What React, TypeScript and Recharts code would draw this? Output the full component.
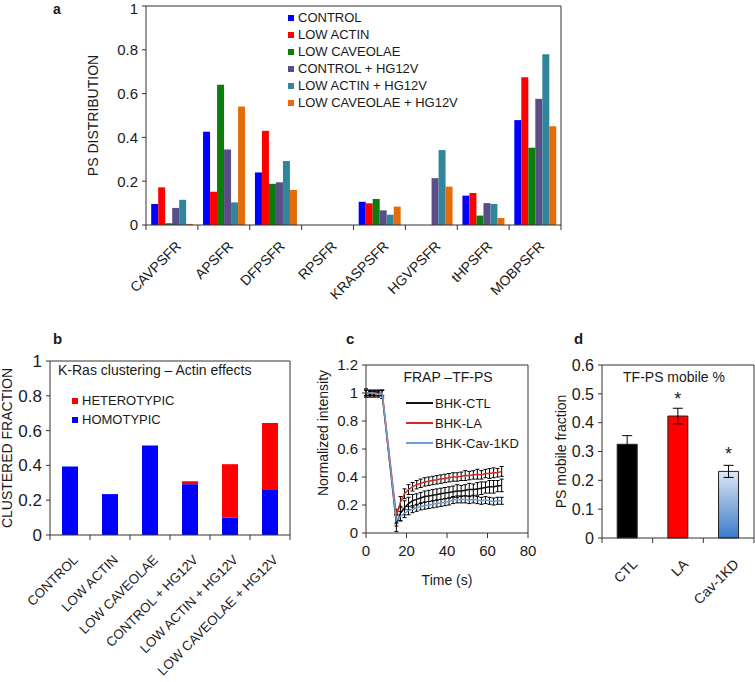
import React from 'react';
import {
  BarChart,
  Bar,
  LineChart,
  Line,
  XAxis,
  YAxis,
  Legend,
  ErrorBar,
  Cell,
  LabelList,
  Label,
  CartesianGrid,
} from 'recharts';

const FONT = '"Liberation Sans", Arial, sans-serif';
const AXIS = '#333';
const TEXT = '#1a1a1a';

// --- panel a: PS distribution ---
const psCategories = ['CAVPSFR', 'APSFR', 'DFPSFR', 'RPSFR', 'KRASPSFR', 'HGVPSFR', 'tHPSFR', 'MOBPSFR'];
const psControl = [0.096, 0.426, 0.24, 0, 0.106, 0, 0.134, 0.479];
const psLowActin = [0.172, 0.152, 0.43, 0, 0.099, 0, 0.146, 0.675];
const psLowCaveolae = [0.008, 0.64, 0.188, 0, 0.119, 0, 0.043, 0.353];
const psControlHg = [0.078, 0.345, 0.195, 0, 0.067, 0.214, 0.1, 0.576];
const psLowActinHg = [0.115, 0.103, 0.292, 0, 0.047, 0.342, 0.096, 0.78];
const psLowCaveolaeHg = [0.005, 0.541, 0.16, 0, 0.084, 0.175, 0.032, 0.451];
const psTicks = [0, 0.2, 0.4, 0.6, 0.8, 1];

// --- panel b: K-Ras clustering ---
const clusterGroups = ['CONTROL', 'LOW ACTIN', 'LOW CAVEOLAE', 'CONTROL + HG12V', 'LOW ACTIN + HG12V', 'LOW CAVEOLAE + HG12V'];
const homotypic = [0.393, 0.235, 0.515, 0.292, 0.099, 0.263];
const heterotypic = [0, 0, 0, 0.017, 0.308, 0.381];
const clusterTicks = [0, 0.2, 0.4, 0.6, 0.8, 1];

// --- panel c: FRAP ---
const frapTime = [0, 2, 4, 6, 8, 15, 17, 19, 21, 23, 25, 27, 29, 31, 33, 35, 37, 39, 41, 43, 45, 47, 49, 51, 53, 55, 57, 59, 61, 63, 65, 67];
const frapCtl = [1.0, 0.99, 1.0, 1.0, 0.99, 0.07, 0.14, 0.18, 0.21, 0.23, 0.24, 0.25, 0.26, 0.265, 0.27, 0.275, 0.28, 0.285, 0.29, 0.295, 0.3, 0.3, 0.305, 0.31, 0.31, 0.315, 0.32, 0.325, 0.33, 0.33, 0.335, 0.34];
const frapLa = [1.0, 1.0, 0.99, 1.0, 1.0, 0.12, 0.22, 0.28, 0.31, 0.33, 0.345, 0.355, 0.365, 0.37, 0.375, 0.38, 0.385, 0.39, 0.395, 0.4, 0.4, 0.405, 0.41, 0.41, 0.415, 0.42, 0.415, 0.425, 0.425, 0.43, 0.43, 0.44];
const frapCav = [1.0, 1.0, 1.0, 0.99, 1.0, 0.09, 0.12, 0.14, 0.16, 0.17, 0.18, 0.19, 0.195, 0.2, 0.205, 0.21, 0.215, 0.22, 0.225, 0.235, 0.24, 0.24, 0.24, 0.235, 0.24, 0.235, 0.23, 0.235, 0.23, 0.225, 0.23, 0.23];
const frapCtlErr = [0.03, 0.02, 0.02, 0.02, 0.03, 0.06, 0.05, 0.05, 0.045, 0.045, 0.04, 0.04, 0.04, 0.04, 0.04, 0.04, 0.04, 0.04, 0.04, 0.04, 0.045, 0.04, 0.04, 0.045, 0.04, 0.045, 0.045, 0.04, 0.045, 0.045, 0.04, 0.045];
const frapLaErr = [0.02, 0.02, 0.02, 0.02, 0.02, 0.05, 0.04, 0.035, 0.035, 0.03, 0.03, 0.03, 0.03, 0.03, 0.03, 0.03, 0.03, 0.03, 0.03, 0.03, 0.03, 0.03, 0.035, 0.03, 0.03, 0.035, 0.03, 0.03, 0.035, 0.035, 0.03, 0.035];
const frapCavErr = [0.02, 0.02, 0.02, 0.02, 0.02, 0.04, 0.035, 0.03, 0.03, 0.025, 0.025, 0.025, 0.025, 0.025, 0.025, 0.025, 0.025, 0.025, 0.025, 0.025, 0.025, 0.025, 0.025, 0.025, 0.025, 0.025, 0.025, 0.025, 0.025, 0.025, 0.025, 0.025];
const frapXTicks = [0, 20, 40, 60, 80];
const frapYTicks = [0, 0.2, 0.4, 0.6, 0.8, 1, 1.2];

// --- panel d: mobile fraction ---
const mobileGroups = ['CTL', 'LA', 'Cav-1KD'];
const mobileFraction = [0.325, 0.423, 0.231];
const mobileError = [0.03, 0.027, 0.021];
const mobileSig = ['', '*', '*'];
const mobileTicks = [0, 0.1, 0.2, 0.3, 0.4, 0.5, 0.6];

const psSeries = [
  { key: 'control', name: 'CONTROL', color: '#0000ff', values: psControl },
  { key: 'lowActin', name: 'LOW ACTIN', color: '#ff0000', values: psLowActin },
  { key: 'lowCav', name: 'LOW CAVEOLAE', color: '#0a7d0a', values: psLowCaveolae },
  { key: 'controlHg', name: 'CONTROL + HG12V', color: '#5b4e88', values: psControlHg },
  { key: 'lowActinHg', name: 'LOW ACTIN + HG12V', color: '#31869b', values: psLowActinHg },
  { key: 'lowCavHg', name: 'LOW CAVEOLAE + HG12V', color: '#e46c0a', values: psLowCaveolaeHg },
];
const clusterSeries = [
  { key: 'hetero', name: 'HETEROTYPIC', color: '#ff0000' },
  { key: 'homo', name: 'HOMOTYPIC', color: '#0000ff' },
];
const frapSeries = [
  { key: 'ctl', err: 'ctlErr', name: 'BHK-CTL', color: '#111111' },
  { key: 'la', err: 'laErr', name: 'BHK-LA', color: '#d42a2a' },
  { key: 'cav', err: 'cavErr', name: 'BHK-Cav-1KD', color: '#6d9fd6' },
];

const psData = psCategories.map((name, i) => {
  const row: Record<string, string | number> = { name };
  psSeries.forEach((s) => {
    row[s.key] = s.values[i];
  });
  return row;
});

const clusterData = clusterGroups.map((name, i) => ({
  name,
  homo: homotypic[i],
  hetero: heterotypic[i],
}));

const frapData = frapTime.map((t, i) => ({
  t,
  ctl: frapCtl[i],
  la: frapLa[i],
  cav: frapCav[i],
  ctlErr: frapCtlErr[i],
  laErr: frapLaErr[i],
  cavErr: frapCavErr[i],
}));

const mobileData = mobileGroups.map((name, i) => ({
  name,
  value: mobileFraction[i],
  err: mobileError[i],
  sig: mobileSig[i],
}));
const mobileFills = ['#000000', '#ff0000', 'url(#cavGrad)'];

const tickStyle = (size: number) => ({ fontSize: size, fill: TEXT, fontFamily: FONT });

// slanted category label, plus Excel-style tick marks on the band edges
const slantTick = (dx: number, size: number, margin: number) => (props: any) => {
  const { x, y, payload, index, visibleTicksCount, width } = props;
  const half = payload && payload.offset ? payload.offset : width / visibleTicksCount / 2;
  const axisY = y - margin;
  const ax = x + dx;
  return (
    <g>
      <line x1={x - half} y1={axisY} x2={x - half} y2={axisY + 5} stroke={AXIS} />
      {index === visibleTicksCount - 1 && (
        <line x1={x + half} y1={axisY} x2={x + half} y2={axisY + 5} stroke={AXIS} />
      )}
      <text
        x={ax}
        y={y}
        dy="0.71em"
        textAnchor="end"
        transform={`rotate(-45, ${ax}, ${y})`}
        fontSize={size}
        fill={TEXT}
        fontFamily={FONT}
      >
        {payload.value}
      </text>
    </g>
  );
};

const yTitle = (text: string, dist: number, shift = 0) => (props: any) => {
  const { x, y, height } = props.viewBox;
  const cx = x + dist;
  const cy = y + height / 2 + shift;
  return (
    <text
      x={cx}
      y={cy}
      transform={`rotate(-90, ${cx}, ${cy})`}
      textAnchor="middle"
      dominantBaseline="central"
      fontSize={14}
      fill={TEXT}
      fontFamily={FONT}
    >
      {text}
    </text>
  );
};

const squareLegend = (items: { name: string; color: string }[], rowHeight: number) => () => (
  <div style={{ fontFamily: FONT, fontSize: 13, color: TEXT }}>
    {items.map((p) => (
      <div key={p.name} style={{ display: 'flex', alignItems: 'center', height: rowHeight, whiteSpace: 'nowrap' }}>
        <span style={{ width: 6, height: 6, background: p.color, marginRight: 4, display: 'inline-block' }} />
        {p.name}
      </div>
    ))}
  </div>
);

const lineLegend = () => (
  <div style={{ fontFamily: FONT, fontSize: 13, color: TEXT }}>
    {frapSeries.map((p) => (
      <div key={p.name} style={{ display: 'flex', alignItems: 'center', height: 20, whiteSpace: 'nowrap' }}>
        <span style={{ width: 27, height: 1.5, background: p.color, marginRight: 2, display: 'inline-block' }} />
        {p.name}
      </div>
    ))}
  </div>
);

// top and right edge of the plot box
const frameGrid = (
  <CartesianGrid
    stroke={AXIS}
    horizontalCoordinatesGenerator={({ offset }: any) => [offset.top]}
    verticalCoordinatesGenerator={({ offset }: any) => [offset.left + offset.width]}
  />
);

const PanelA = () => (
  <BarChart
    width={600}
    height={340}
    data={psData}
    margin={{ top: 6, right: 39, bottom: 0, left: 0 }}
    barCategoryGap="10%"
    barGap={0}
  >
    {frameGrid}
    <XAxis
      dataKey="name"
      stroke={AXIS}
      tickLine={false}
      tickSize={0}
      tickMargin={15}
      interval={0}
      height={115}
      tick={slantTick(3, 14, 15)}
    />
    <YAxis
      domain={[0, 1]}
      ticks={psTicks}
      width={146}
      stroke={AXIS}
      tickSize={4}
      tickMargin={4}
      tick={tickStyle(15)}
    >
      <Label content={yTitle('PS DISTRIBUTION', 93)} />
    </YAxis>
    <Legend
      layout="vertical"
      align="center"
      verticalAlign="middle"
      wrapperStyle={{ left: 288, top: 9, width: 'auto', height: 'auto' }}
      content={squareLegend(psSeries, 17)}
    />
    {psSeries.map((s) => (
      <Bar key={s.key} dataKey={s.key} name={s.name} fill={s.color} isAnimationActive={false} />
    ))}
  </BarChart>
);

const PanelB = () => (
  <BarChart
    width={300}
    height={342}
    data={clusterData}
    margin={{ top: 21, right: 10, bottom: 0, left: 0 }}
    barCategoryGap="30%"
  >
    {frameGrid}
    <XAxis
      dataKey="name"
      stroke={AXIS}
      tickLine={false}
      tickSize={0}
      tickMargin={19}
      interval={0}
      height={147}
      tick={slantTick(2, 13.3, 19)}
    />
    <YAxis
      domain={[0, 1]}
      ticks={clusterTicks}
      width={50}
      stroke={AXIS}
      tickSize={4}
      tickMargin={4}
      tick={tickStyle(17)}
    >
      <Label content={yTitle('CLUSTERED FRACTION', 7)} />
    </YAxis>
    <Legend
      layout="vertical"
      align="center"
      verticalAlign="middle"
      wrapperStyle={{ left: 72, top: 51, width: 'auto', height: 'auto' }}
      content={squareLegend(clusterSeries, 19)}
    />
    <Bar dataKey="homo" name="HOMOTYPIC" stackId="k" fill="#0000ff" isAnimationActive={false} />
    <Bar dataKey="hetero" name="HETEROTYPIC" stackId="k" fill="#ff0000" isAnimationActive={false} />
  </BarChart>
);

const PanelC = () => (
  <LineChart width={240} height={260} data={frapData} margin={{ top: 25, right: 12, bottom: 0, left: 0 }}>
    {frameGrid}
    <XAxis
      dataKey="t"
      type="number"
      domain={[0, 80]}
      ticks={frapXTicks}
      height={67}
      stroke={AXIS}
      tickSize={5}
      tickMargin={7}
      tick={tickStyle(15)}
    >
      <Label
        content={(p: any) => (
          <text
            x={p.viewBox.x + p.viewBox.width / 2}
            y={p.viewBox.y + 47}
            textAnchor="middle"
            dominantBaseline="central"
            fontSize={14}
            fill={TEXT}
            fontFamily={FONT}
          >
            Time (s)
          </text>
        )}
      />
    </XAxis>
    <YAxis
      domain={[0, 1.2]}
      ticks={frapYTicks}
      width={66}
      stroke={AXIS}
      tickSize={4}
      tickMargin={4}
      tick={tickStyle(15)}
    >
      <Label content={yTitle('Normalized intensity', 23, -16)} />
    </YAxis>
    <Legend
      layout="vertical"
      align="center"
      verticalAlign="middle"
      wrapperStyle={{ left: 106, top: 53, width: 'auto', height: 'auto' }}
      content={lineLegend}
    />
    {frapSeries.map((s) => (
      <Line
        key={s.key}
        dataKey={s.key}
        name={s.name}
        stroke={s.color}
        strokeWidth={1.5}
        dot={false}
        isAnimationActive={false}
      >
        <ErrorBar dataKey={s.err} direction="y" width={2} stroke="#000" strokeWidth={1} />
      </Line>
    ))}
  </LineChart>
);

const PanelD = () => (
  <BarChart
    width={225}
    height={342}
    data={mobileData}
    margin={{ top: 25, right: 1, bottom: 0, left: 0 }}
    barCategoryGap="30%"
  >
    <defs>
      <linearGradient id="cavGrad" x1="0" y1="0" x2="0" y2="1">
        <stop offset="0%" stopColor="#dbe7f6" />
        <stop offset="100%" stopColor="#3c7ac8" />
      </linearGradient>
    </defs>
    {frameGrid}
    <XAxis
      dataKey="name"
      stroke={AXIS}
      tickLine={false}
      tickSize={0}
      tickMargin={20}
      interval={0}
      height={144}
      tick={slantTick(4, 14, 20)}
    />
    <YAxis
      domain={[0, 0.6]}
      ticks={mobileTicks}
      width={72}
      stroke={AXIS}
      tickSize={4}
      tickMargin={4}
      tick={tickStyle(16)}
    >
      <Label content={yTitle('PS mobile fraction', 31)} />
    </YAxis>
    <Bar dataKey="value" stroke="#222" strokeWidth={1} isAnimationActive={false}>
      {mobileData.map((d, i) => (
        <Cell key={d.name} fill={mobileFills[i]} />
      ))}
      <ErrorBar dataKey="err" direction="y" width={5} stroke="#000" strokeWidth={1} />
      <LabelList dataKey="sig" position="top" offset={11} fontSize={18} fill={TEXT} fontFamily={FONT} />
    </Bar>
  </BarChart>
);

const overlayText = { fill: TEXT, fontFamily: FONT };

export default function App() {
  return (
    <div style={{ position: 'absolute', left: 0, top: 0, width: 755, height: 682, background: '#fff', overflow: 'hidden' }}>
      <div style={{ position: 'absolute', left: 0, top: 0 }}>
        <PanelA />
      </div>
      <div style={{ position: 'absolute', left: 0, top: 340 }}>
        <PanelB />
      </div>
      <div style={{ position: 'absolute', left: 300, top: 340 }}>
        <PanelC />
      </div>
      <div style={{ position: 'absolute', left: 530, top: 340 }}>
        <PanelD />
      </div>
      <svg width={755} height={682} style={{ position: 'absolute', left: 0, top: 0, pointerEvents: 'none' }}>
        <text x={53} y={14} fontSize={14} fontWeight="bold" {...overlayText}>a</text>
        <text x={53} y={344} fontSize={15} fontWeight="bold" {...overlayText}>b</text>
        <text x={346} y={344} fontSize={15} fontWeight="bold" {...overlayText}>c</text>
        <text x={574} y={344} fontSize={15} fontWeight="bold" {...overlayText}>d</text>
        <text x={58} y={375} fontSize={14} {...overlayText}>K-Ras clustering – Actin effects</text>
        <text x={448} y={382} fontSize={14} textAnchor="middle" {...overlayText}>FRAP –TF-PS</text>
        <text x={674} y={382} fontSize={14} textAnchor="middle" {...overlayText}>TF-PS mobile %</text>
      </svg>
    </div>
  );
}
